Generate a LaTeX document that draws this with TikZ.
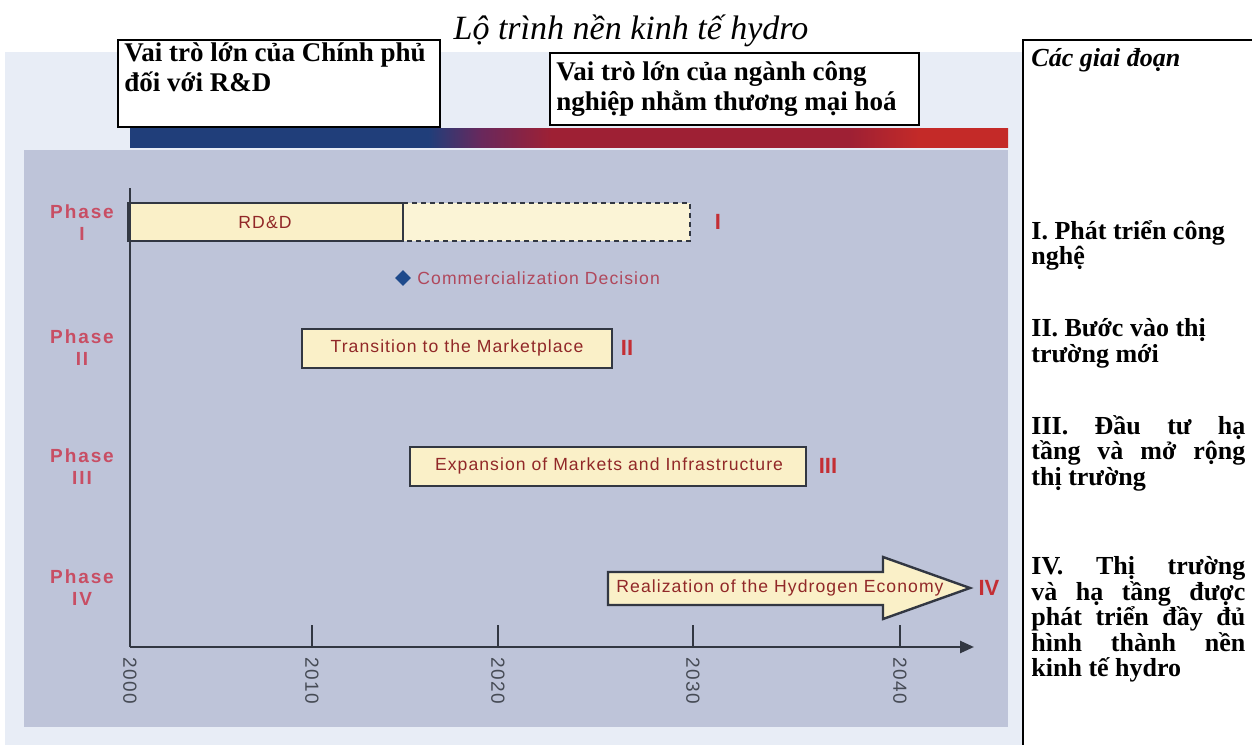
\documentclass[tikz,border=0pt]{standalone}
\usepackage{fontspec}
\setmainfont{Liberation Serif}
\setsansfont{Liberation Sans}
\usetikzlibrary{shapes.geometric,arrows.meta}
\definecolor{panelbg}{RGB}{190,196,217}
\definecolor{haze}{RGB}{232,237,246}
\definecolor{barblue}{RGB}{32,62,122}
\definecolor{barpurple}{RGB}{105,40,92}
\definecolor{barred}{RGB}{158,32,52}
\definecolor{barred2}{RGB}{196,42,40}
\definecolor{cream}{RGB}{250,240,200}
\definecolor{creamlight}{RGB}{251,244,214}
\definecolor{phasered}{RGB}{200,78,100}
\definecolor{labelred}{RGB}{145,40,40}
\definecolor{commred}{RGB}{176,72,92}
\definecolor{numred}{RGB}{196,46,52}
\definecolor{axisgray}{RGB}{50,55,66}
\definecolor{decblue}{RGB}{30,74,140}
\pgfdeclarehorizontalshading{rolebar}{100bp}{color(0bp)=(barblue); color(42bp)=(barblue); color(45bp)=(barpurple); color(49bp)=(barred); color(66bp)=(barred); color(70bp)=(barred2); color(100bp)=(barred2)}
\tikzset{
  rolebox/.style={draw=black,line width=0.9pt,fill=white},
  roletxt/.style={anchor=north west,align=left,inner sep=0pt,font=\bfseries\fontsize{13.5}{15}\selectfont},
  stagetxt/.style={anchor=north west,inner sep=0pt,text width=107pt,align=justify,font=\bfseries\fontsize{13}{12.8}\selectfont},
  phaselbl/.style={align=center,text=phasered,font=\sffamily\bfseries\fontsize{9.5}{11}\selectfont\addfontfeature{LetterSpace=10}},
  numlbl/.style={text=numred,inner sep=0pt,font=\sffamily\bfseries\fontsize{11}{12}\selectfont},
  bartxt/.style={text=labelred,inner sep=0pt,font=\sffamily\fontsize{8.8}{10}\selectfont\addfontfeature{LetterSpace=6}},
  barbox/.style={draw=axisgray,line width=1.2pt},
  axisline/.style={draw=axisgray,line width=1.3pt},
  yearlbl/.style={rotate=-90,anchor=west,inner sep=0pt,text=axisgray!90,font=\sffamily\fontsize{9.5}{10}\selectfont\addfontfeature{LetterSpace=8}}
}
\begin{document}
\begin{tikzpicture}[x=0.5pt,y=-0.5pt]
\useasboundingbox (0,0) rectangle (1252,749);
\fill[white] (0,0) rectangle (1252,749);
\fill[haze] (5,52) rectangle (1022,745);
\fill[panelbg] (24,150) rectangle (1008,727);
\shade[shading=rolebar] (130,129) rectangle (1008,147);

\node[font=\itshape\fontsize{17}{19}\selectfont] (title) at (631,31) {Lộ trình nền kinh tế hydro};

\draw[rolebox] (118,40) rectangle (440,127);
\node[roletxt] (govtxt) at (124,42) {Vai trò lớn của Chính phủ\\đối với R\&D};
\draw[rolebox] (550,53) rectangle (919,125);
\node[roletxt] (indtxt) at (556,61) {Vai trò lớn của ngành công\\nghiệp nhằm thương mại hoá};

\draw[line width=0.9pt] (1260,40) -- (1023,40) -- (1023,745);
\node[stagetxt,font=\bfseries\itshape\fontsize{13}{13}\selectfont] (stage0) at (1031,48) {Các giai đoạn};
\node[stagetxt] (stage1) at (1031,220) {I. Phát triển công\\nghệ};
\node[stagetxt] (stage2) at (1031,318) {II. Bước vào thị\\trường mới};
\node[stagetxt] (stage3) at (1031,415) {III. Đầu tư hạ\linebreak tầng và mở rộng\linebreak thị trường};
\node[stagetxt] (stage4) at (1031,556) {IV. Thị trường\linebreak và hạ tầng được\linebreak phát triển đầy đủ\linebreak hình thành nền\linebreak kinh tế hydro};

\foreach \n/\r/\yy in {1/I/223,2/II/348,3/III/467,4/IV/588}
  \node[phaselbl] (ph\n) at (82,\yy) {Phase\\\r};

\fill[creamlight] (403,203) rectangle (690,241);
\draw[barbox,dash pattern=on 2.5pt off 2pt] (403,203) -- (690,203) -- (690,241) -- (403,241);
\draw[barbox,fill=cream] (128,203) rectangle (403,241);
\node[bartxt] (rdd) at (265,222) {RD\&D};
\node[numlbl] (num1) at (718,222) {I};

\node[diamond,fill=decblue,minimum size=8pt,inner sep=0pt] (decision) at (403,278) {};
\node[bartxt,text=commred,anchor=west] (decisiontxt) at (417,278) {Commercialization Decision};

\draw[barbox,fill=cream] (302,329) rectangle (612,368);
\node[bartxt] (transit) at (457,348) {Transition to the Marketplace};
\node[numlbl] (num2) at (627,348) {II};

\draw[barbox,fill=cream] (410,447) rectangle (806,486);
\node[bartxt] (expand) at (609,466) {Expansion of Markets and Infrastructure};
\node[numlbl] (num3) at (828,466) {III};

\draw[barbox,fill=cream] (608,572) -- (883,572) -- (883,557) -- (970,588) -- (883,619) -- (883,605) -- (608,605) -- cycle;
\node[bartxt] (realize) at (780,588) {Realization of the Hydrogen Economy};
\node[numlbl] (num4) at (989,588) {IV};

\coordinate (ytop) at (130,188);
\coordinate (origin) at (130,647);
\coordinate (xend) at (974,647);
\draw[axisline] (ytop) -- (origin);
\draw[axisline,-{Triangle[length=7pt,width=6pt]}] (origin) -- (xend);
\foreach \xx in {312,498,693,900}
  \draw[axisline] (\xx,625) -- (\xx,647);
\foreach \yr/\xx in {2000/130,2010/312,2020/498,2030/693,2040/900}
  \node[yearlbl] (yr\yr) at (\xx,657) {\yr};
\end{tikzpicture}
\end{document}
